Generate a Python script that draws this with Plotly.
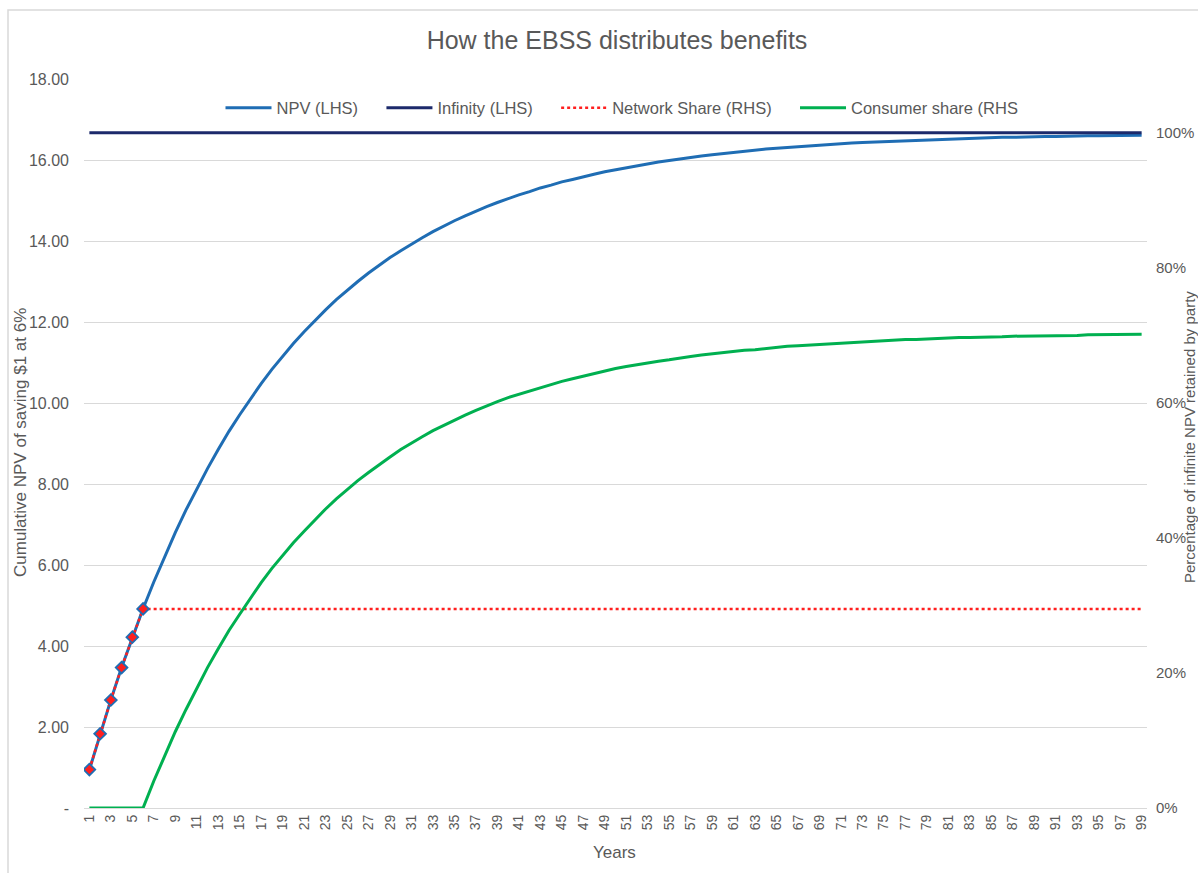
import plotly.graph_objects as go

# Years 1..99
years = list(range(1, 100))

# Cumulative NPV of saving $1 at 6% (LHS)
npv = [0.94, 1.83, 2.67, 3.47, 4.21, 4.92, 5.58, 6.21, 6.80, 7.36,
       7.89, 8.38, 8.85, 9.30, 9.71, 10.11, 10.48, 10.83, 11.16, 11.47,
       11.76, 12.04, 12.30, 12.55, 12.78, 13.00, 13.21, 13.41, 13.59, 13.76,
       13.93, 14.08, 14.23, 14.37, 14.50, 14.62, 14.74, 14.85, 14.95, 15.05,
       15.14, 15.22, 15.31, 15.38, 15.46, 15.52, 15.59, 15.65, 15.71, 15.76,
       15.81, 15.86, 15.91, 15.95, 15.99, 16.03, 16.06, 16.10, 16.13, 16.16,
       16.19, 16.22, 16.24, 16.27, 16.29, 16.31, 16.33, 16.35, 16.37, 16.38,
       16.40, 16.42, 16.43, 16.44, 16.46, 16.47, 16.48, 16.49, 16.50, 16.51,
       16.52, 16.53, 16.53, 16.54, 16.55, 16.56, 16.56, 16.57, 16.57, 16.58,
       16.58, 16.59, 16.59, 16.60, 16.60, 16.60, 16.61, 16.61, 16.61]

# NPV of a perpetual $1 saving (LHS)
infinity = [16.67] * 99

# Network share of infinite NPV, % (RHS)
network_share = [5.7, 11.0, 16.0, 20.8, 25.3, 29.5] + [29.5] * 93

# Consumer share of infinite NPV, % (RHS)
consumer_share = [0, 0, 0, 0, 0, 0, 4.0, 7.7, 11.3, 14.6,
                  17.8, 20.8, 23.6, 26.3, 28.7, 31.1, 33.4, 35.5, 37.4, 39.3,
                  41.0, 42.7, 44.3, 45.8, 47.2, 48.5, 49.7, 50.9, 52.0, 53.1,
                  54.1, 55.0, 55.9, 56.7, 57.5, 58.2, 58.9, 59.6, 60.2, 60.8,
                  61.3, 61.8, 62.3, 62.8, 63.2, 63.6, 64.0, 64.4, 64.7, 65.1,
                  65.4, 65.7, 65.9, 66.2, 66.4, 66.7, 66.9, 67.1, 67.3, 67.5,
                  67.6, 67.8, 67.9, 68.1, 68.2, 68.4, 68.5, 68.6, 68.7, 68.8,
                  68.9, 69.0, 69.1, 69.2, 69.2, 69.3, 69.4, 69.4, 69.5, 69.6,
                  69.6, 69.7, 69.7, 69.7, 69.8, 69.8, 69.9, 69.9, 69.9, 70.0,
                  70.0, 70.0, 70.0, 70.1, 70.1, 70.1, 70.1, 70.1, 70.2]

# Network collects the first six years of savings
network_years = 6

left_ticks = [0, 2, 4, 6, 8, 10, 12, 14, 16, 18]
left_ticktext = ["-"] + [f"{v:.2f}" for v in left_ticks[1:]]
right_ticks = [0, 20, 40, 60, 80, 100]
right_ticktext = [f"{v}%" for v in right_ticks]

BLUE = "#1f6db4"
NAVY = "#1c2a6b"
RED = "#ff1f1f"
GREEN = "#00b050"
GREY_TEXT = "#595959"
GRID = "#d9d9d9"
FONT = "Liberation Sans, Arial, sans-serif"

# trailing non-breaking spaces widen the gap between legend entries
GAP = "\u00a0" * 4

fig = go.Figure()

fig.add_trace(go.Scatter(x=years, y=npv, name="NPV (LHS)" + GAP, mode="lines",
                         line=dict(color=BLUE, width=3), yaxis="y"))
fig.add_trace(go.Scatter(x=years, y=infinity, name="Infinity (LHS)" + GAP, mode="lines",
                         line=dict(color=NAVY, width=3), yaxis="y"))
fig.add_trace(go.Scatter(x=years, y=network_share, name="Network Share (RHS)" + GAP, mode="lines",
                         line=dict(color=RED, width=2.5, dash="dot"), yaxis="y2"))
fig.add_trace(go.Scatter(x=years, y=consumer_share, name="Consumer share (RHS", mode="lines",
                         line=dict(color=GREEN, width=3), yaxis="y2"))
# Point markers over the network's collection years
fig.add_trace(go.Scatter(x=years[:network_years], y=network_share[:network_years],
                         mode="markers", showlegend=False, yaxis="y2",
                         marker=dict(symbol="diamond", size=9, color=RED,
                                     line=dict(color=BLUE, width=1.8))))

fig.update_layout(
    width=1198, height=873,
    margin=dict(l=84, r=51, t=79, b=65, autoexpand=False),
    paper_bgcolor="white", plot_bgcolor="white",
    font=dict(family=FONT, color=GREY_TEXT, size=16),
    title=dict(text="How the EBSS distributes benefits", x=(617) / 1198, xanchor="center",
               y=1 - 40 / 873, yanchor="middle",
               font=dict(size=25, color=GREY_TEXT, family=FONT)),
    showlegend=True,
    legend=dict(orientation="h", x=(622 - 84) / 1063, xanchor="center", y=(808 - 108) / 729,
                yanchor="middle", bgcolor="rgba(0,0,0,0)",
                font=dict(size=16.5, color=GREY_TEXT), itemwidth=46,
                tracegroupgap=0),
    xaxis=dict(type="category", range=[-0.5, 98.5], automargin=False,
               tickmode="array", tickvals=years[::2], ticktext=[str(y) for y in years[::2]],
               tickangle=-90, tickfont=dict(size=14, color=GREY_TEXT),
               showgrid=False, showline=True, linecolor=GRID, linewidth=1,
               ticks="", zeroline=False),
    yaxis=dict(range=[0, 18], tickmode="array", tickvals=left_ticks, ticktext=left_ticktext,
               automargin=False,
               showgrid=True, gridcolor=GRID, gridwidth=1, zeroline=False,
               showline=False, ticks="", tickfont=dict(size=16, color=GREY_TEXT),
               ticklabelstandoff=14),
    yaxis2=dict(range=[0, 108], overlaying="y", side="right", automargin=False,
                tickmode="array", tickvals=right_ticks, ticktext=right_ticktext,
                showgrid=False, zeroline=False, showline=False, ticks="",
                tickfont=dict(size=15, color=GREY_TEXT), ticklabelstandoff=8),
    annotations=[
        dict(text="Cumulative NPV of saving $1 at 6%", xref="paper", yref="paper",
             x=(20 - 84) / 1063, y=(808 - 443) / 729, xanchor="center", yanchor="middle",
             textangle=-90, showarrow=False, font=dict(size=17, color=GREY_TEXT)),
        dict(text="Percentage of infinite NPV retained by party", xref="paper", yref="paper",
             x=(1190 - 84) / 1063, y=(808 - 437) / 729, xanchor="center", yanchor="middle",
             textangle=-90, showarrow=False, font=dict(size=15, color=GREY_TEXT)),
        dict(text="Years", xref="paper", yref="paper",
             x=(614 - 84) / 1063, y=(808 - 852) / 729, xanchor="center", yanchor="middle",
             showarrow=False, font=dict(size=17, color=GREY_TEXT)),
    ],
    shapes=[
        dict(type="rect", xref="paper", yref="paper",
             x0=(8 - 84) / 1063, x1=(1210 - 84) / 1063,
             y0=(808 - 885) / 729, y1=(808 - 10) / 729,
             line=dict(color="#d9d9d9", width=1.5), fillcolor="rgba(0,0,0,0)", layer="below"),
    ],
)

fig.write_html("out.html")
